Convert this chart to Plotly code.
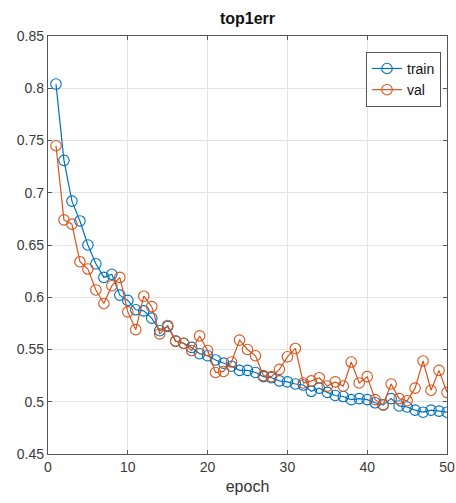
import plotly.graph_objects as go

epochs = list(range(1, 51))
train_err = [0.804, 0.731, 0.692, 0.673, 0.650, 0.632, 0.619, 0.622, 0.602, 0.597,
             0.588, 0.587, 0.580, 0.568, 0.572, 0.558, 0.556, 0.552, 0.546, 0.544,
             0.540, 0.537, 0.534, 0.530, 0.530, 0.528, 0.524, 0.523, 0.520, 0.519,
             0.517, 0.516, 0.510, 0.513, 0.509, 0.506, 0.505, 0.502, 0.503, 0.502,
             0.499, 0.497, 0.503, 0.496, 0.495, 0.492, 0.490, 0.492, 0.491, 0.490]
val_err = [0.745, 0.674, 0.670, 0.634, 0.627, 0.607, 0.594, 0.611, 0.619, 0.586,
           0.569, 0.601, 0.591, 0.565, 0.573, 0.558, 0.556, 0.549, 0.563, 0.549,
           0.528, 0.529, 0.538, 0.559, 0.550, 0.544, 0.525, 0.524, 0.531, 0.543,
           0.551, 0.518, 0.520, 0.523, 0.515, 0.519, 0.515, 0.538, 0.518, 0.524,
           0.502, 0.497, 0.517, 0.503, 0.501, 0.513, 0.539, 0.511, 0.530, 0.509]
x_ticks = [0, 10, 20, 30, 40, 50]
y_ticks = [0.45, 0.5, 0.55, 0.6, 0.65, 0.7, 0.75, 0.8, 0.85]
y_tick_text = ["0.45", "0.5", "0.55", "0.6", "0.65", "0.7", "0.75", "0.8", "0.85"]

BLUE = "#0072BD"
ORANGE = "#D95319"
FONT = "Liberation Sans, Arial, sans-serif"

fig = go.Figure()
fig.add_trace(go.Scatter(
    x=epochs, y=train_err, name="train", mode="lines+markers",
    line=dict(color=BLUE, width=1.2),
    marker=dict(symbol="circle-open", size=10.5, color=BLUE, line=dict(width=1.1)),
))
fig.add_trace(go.Scatter(
    x=epochs, y=val_err, name="val", mode="lines+markers",
    line=dict(color=ORANGE, width=1.2),
    marker=dict(symbol="circle-open", size=10.5, color=ORANGE, line=dict(width=1.1)),
))

axis_common = dict(
    showgrid=True, gridcolor="#e3e3e3", gridwidth=1,
    showline=True, linecolor="#555555", linewidth=1.3, mirror="ticks",
    ticks="inside", ticklen=4, tickcolor="#555555",
    zeroline=False, automargin=False, ticklabeloverflow="allow",
    tickfont=dict(family=FONT, size=14, color="#3a3a3a"),
)

fig.update_layout(
    width=456, height=503,
    margin=dict(l=48, r=9, t=36, b=49),
    paper_bgcolor="white", plot_bgcolor="white",
    title=dict(text="<b>top1err</b>", x=0.5, xanchor="center", xref="paper",
               y=1 - 18 / 503, yanchor="middle",
               font=dict(family=FONT, size=16, color="#111111")),
    font=dict(family=FONT, size=14, color="#333333"),
    xaxis=dict(range=[0, 50], tickvals=x_ticks,
               title=dict(text="epoch", standoff=6,
                          font=dict(family=FONT, size=16, color="#333333")),
               **axis_common),
    yaxis=dict(range=[0.45, 0.85], tickvals=y_ticks, ticktext=y_tick_text, **axis_common),
    legend=dict(x=0.985, xanchor="right", y=0.962, yanchor="top",
                bgcolor="white", bordercolor="#555555", borderwidth=1,
                font=dict(family=FONT, size=14, color="#111111"),
                tracegroupgap=0),
    showlegend=True,
)

fig.write_html(
    "out.html",
    config={"displayModeBar": False},
    post_script="document.body.style.margin='0';document.body.style.padding='0';document.body.style.overflow='hidden';",
)
